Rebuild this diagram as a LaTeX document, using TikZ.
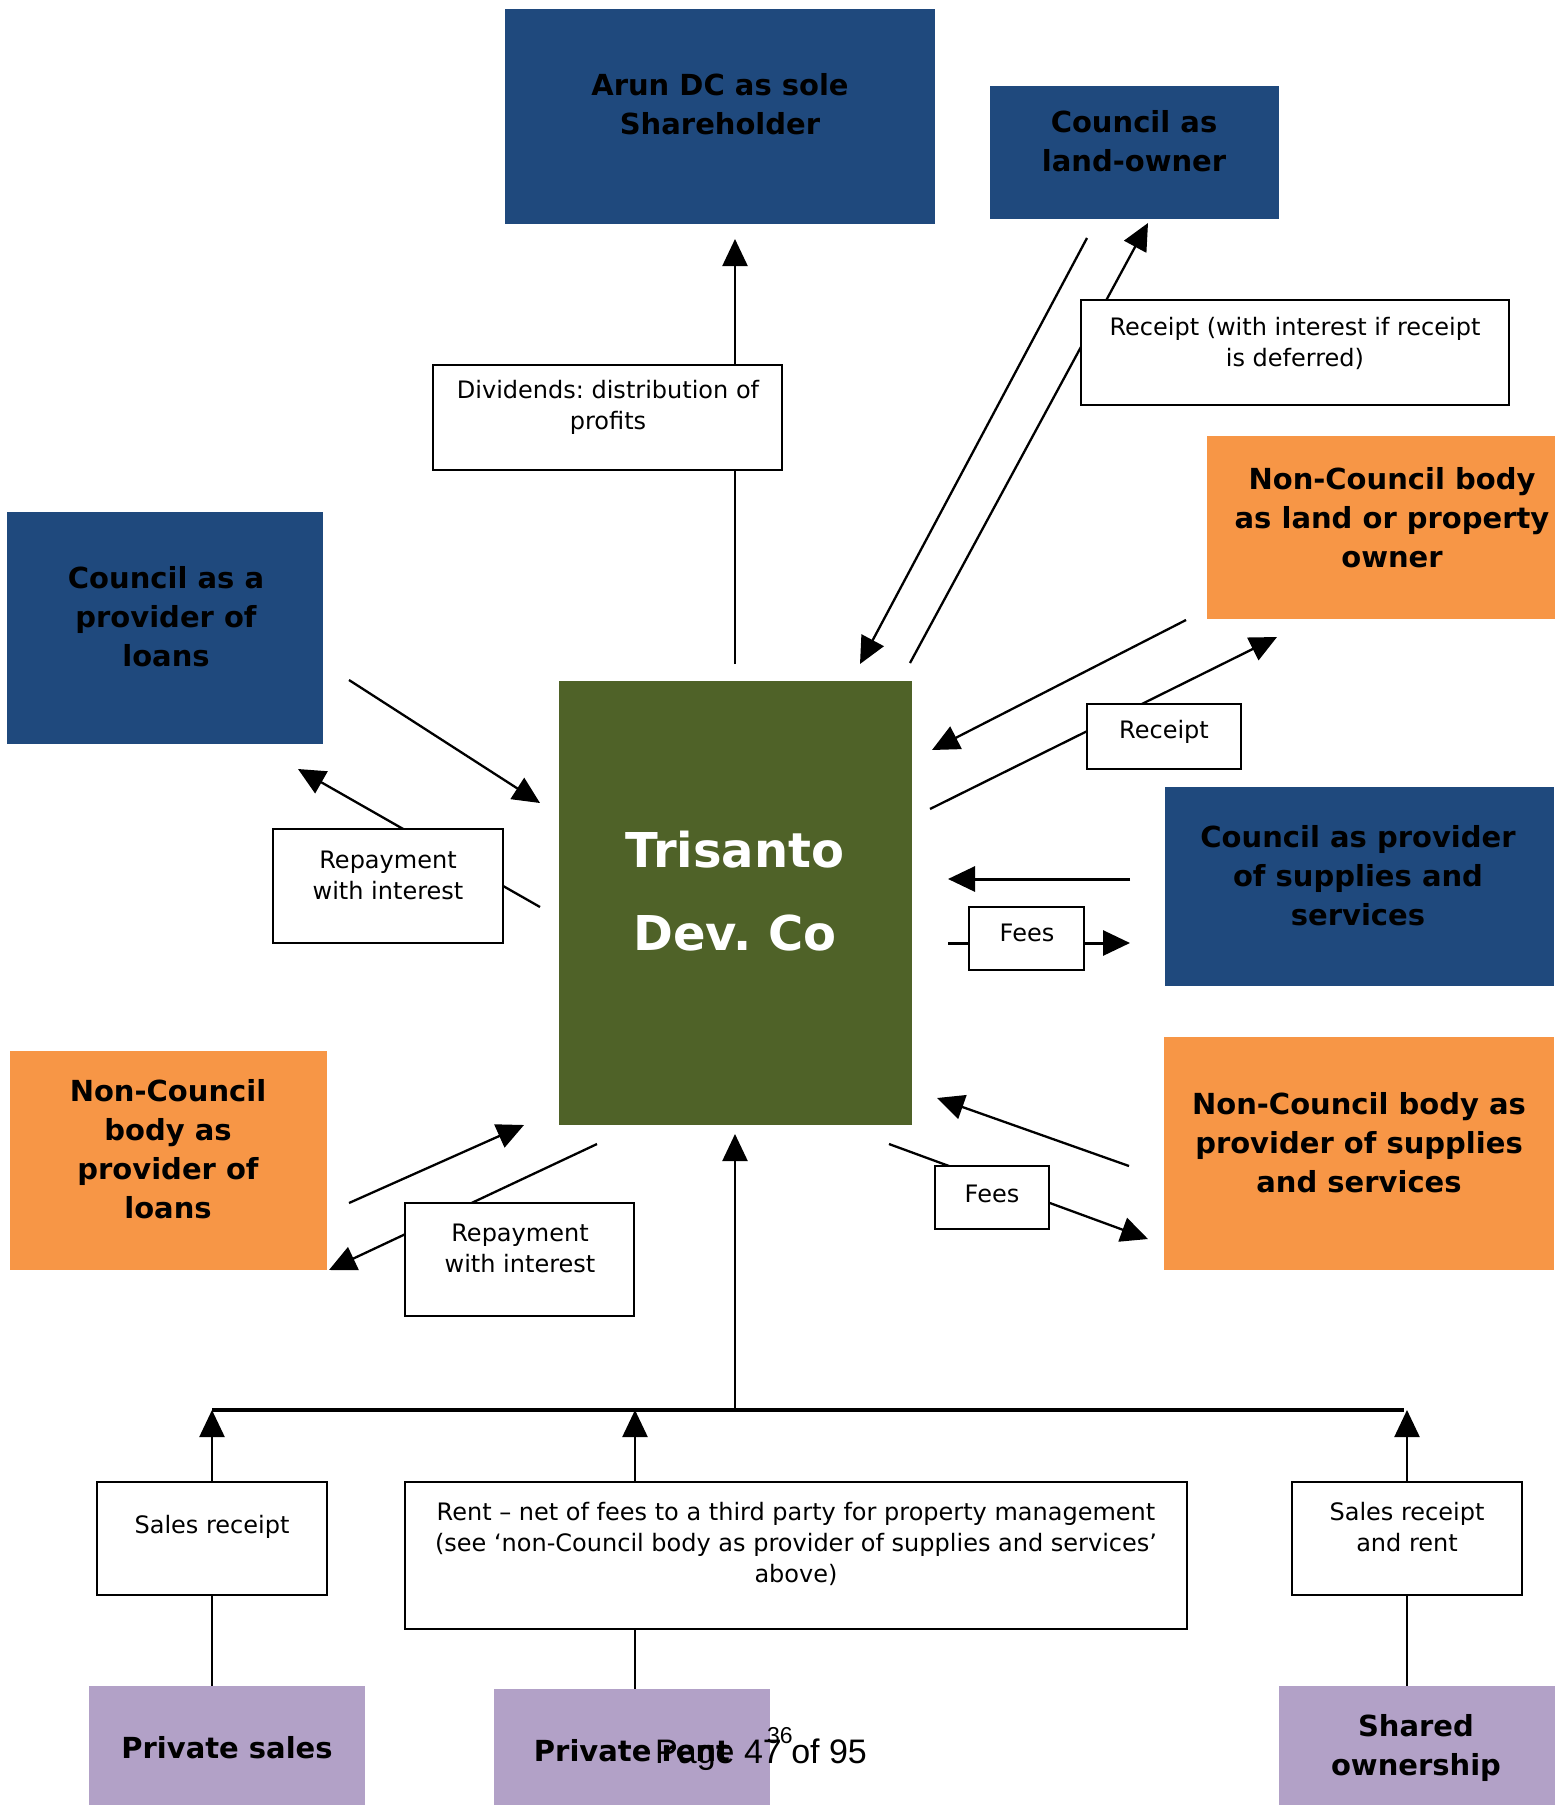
\documentclass[tikz,border=0pt]{standalone}
\usepackage{fontspec}
\setmainfont{DejaVu Sans}
\newfontfamily\pagefont{Liberation Sans}
\usetikzlibrary{arrows.meta}
\usetikzlibrary{calc}
\frenchspacing

\definecolor{councilblue}{HTML}{1F497D}
\definecolor{outsideorange}{HTML}{F79646}
\definecolor{devgreen}{HTML}{4F6228}
\definecolor{tenurelilac}{HTML}{B2A1C7}

\tikzset{
    blockbox/.style={draw=none, inner sep=0pt},
    blocktext/.style={align=center, inner sep=0pt, font=\fontsize{29}{39}\selectfont\bfseries},
    flowbox/.style={draw, fill=white, line width=2.6pt, inner sep=0pt},
    flowtext/.style={align=center, inner sep=0pt, font=\fontsize{24}{31}\selectfont},
    flow/.style={line width=2.3pt, -{Triangle[length=27pt, width=25pt]}},
    flowline/.style={line width=2.3pt},
}

\begin{document}
\begin{tikzpicture}[x=1pt, y=-1pt]
    % money flows around the development company
    \useasboundingbox (0,0) rectangle (1555,1805);

    \node[blockbox, fill=councilblue, minimum width=430pt, minimum height=215pt] (arunbox) at (720,116.5) {};
    \node[blockbox, fill=councilblue, minimum width=289pt, minimum height=133pt] (landbox) at (1134.5,152.5) {};
    \node[blockbox, fill=outsideorange, minimum width=348pt, minimum height=183pt] (nclandbox) at (1381,527.5) {};
    \node[blockbox, fill=councilblue, minimum width=316pt, minimum height=232pt] (loanbox) at (165,628) {};
    \node[blockbox, fill=devgreen, minimum width=353pt, minimum height=444pt] (tribox) at (735.5,903) {};
    \node[blockbox, fill=councilblue, minimum width=389pt, minimum height=199pt] (supbox) at (1359.5,886.5) {};
    \node[blockbox, fill=outsideorange, minimum width=317pt, minimum height=219pt] (ncloanbox) at (168.5,1160.5) {};
    \node[blockbox, fill=outsideorange, minimum width=390pt, minimum height=233pt] (ncsupbox) at (1359,1153.5) {};
    \node[blockbox, fill=tenurelilac, minimum width=276pt, minimum height=119pt] (salebox) at (227,1745.5) {};
    \node[blockbox, fill=tenurelilac, minimum width=276pt, minimum height=116pt] (rentbox) at (632,1747) {};
    \node[blockbox, fill=tenurelilac, minimum width=276pt, minimum height=119pt] (sharedbox) at (1417,1745.5) {};

    \coordinate (divA) at (735,664);
    \coordinate (divB) at (735,239);
    \coordinate (lndinA) at (1087,238);
    \coordinate (lndinB) at (860,664);
    \coordinate (lndoutA) at (910,663);
    \coordinate (lndoutB) at (1148,223);
    \coordinate (nclinA) at (1186,620);
    \coordinate (nclinB) at (932,750);
    \coordinate (ncloutA) at (930,809);
    \coordinate (ncloutB) at (1277,637);
    \coordinate (loaninA) at (349,680);
    \coordinate (loaninB) at (540,803);
    \coordinate (loanoutA) at (540,907);
    \coordinate (loanoutB) at (298,769);
    \coordinate (supinA) at (1130,879);
    \coordinate (supinB) at (948,879);
    \coordinate (supoutA) at (948,943);
    \coordinate (supoutB) at (1130,943);
    \coordinate (ncloaninA) at (349,1203);
    \coordinate (ncloaninB) at (524,1125);
    \coordinate (ncloanoutA) at (597,1144);
    \coordinate (ncloanoutB) at (329,1270);
    \coordinate (ncsupinA) at (1129,1166);
    \coordinate (ncsupinB) at (937,1098);
    \coordinate (ncsupoutA) at (889,1144);
    \coordinate (ncsupoutB) at (1148,1239);
    \coordinate (busL) at (212,1410);
    \coordinate (busM) at (735,1410);
    \coordinate (busR) at (1404,1410);
    \coordinate (triin) at (735,1134);
    \coordinate (rentup) at (635,1482);
    \coordinate (rentdown) at (635,1629);

    \draw[flow] (divA) -- (divB);
    \draw[flow] (lndinA) -- (lndinB);
    \draw[flow] (lndoutA) -- (lndoutB);
    \draw[flow] (nclinA) -- (nclinB);
    \draw[flow] (ncloutA) -- (ncloutB);
    \draw[flow] (loaninA) -- (loaninB);
    \draw[flow] (loanoutA) -- (loanoutB);
    \draw[flow, line width=3pt] (supinA) -- (supinB);
    \draw[flow, line width=3pt] (supoutA) -- (supoutB);
    \draw[flow] (ncloaninA) -- (ncloaninB);
    \draw[flow] (ncloanoutA) -- (ncloanoutB);
    \draw[flow] (ncsupinA) -- (ncsupinB);
    \draw[flow] (ncsupoutA) -- (ncsupoutB);
    \draw[line width=3.5pt] (busL) -- (busR);
    \draw[flow] (busM) -- (triin);

    \node[flowbox, minimum width=349pt, minimum height=105pt] (divbox) at (607.5,417.5) {};
    \node[flowbox, minimum width=428pt, minimum height=105pt] (lndbox) at (1295,352.5) {};
    \node[flowbox, minimum width=154pt, minimum height=65pt] (nclbox) at (1164,736.5) {};
    \node[flowbox, minimum width=230pt, minimum height=114pt] (repaybox) at (388,886) {};
    \node[flowbox, minimum width=115pt, minimum height=63pt] (feebox) at (1026.5,938.5) {};
    \node[flowbox, minimum width=114pt, minimum height=63pt] (ncfeebox) at (992,1197.5) {};
    \node[flowbox, minimum width=229pt, minimum height=113pt] (ncrepaybox) at (519.5,1259.5) {};
    \node[flowbox, minimum width=230pt, minimum height=113pt] (salesbox) at (212,1538.5) {};
    \node[flowbox, minimum width=782pt, minimum height=147pt] (rentsbox) at (796,1555.5) {};
    \node[flowbox, minimum width=230pt, minimum height=113pt] (mixbox) at (1407,1538.5) {};

    \draw[flow] (salesbox.north) -- (salesbox.north |- busL);
    \draw[flow] (rentup) -- (rentup |- busL);
    \draw[flow] (mixbox.north) -- (mixbox.north |- busL);
    \draw[flowline] (salesbox.south) -- (salesbox.south |- salebox.north);
    \draw[flowline] (rentdown) -- (rentdown |- rentbox.north);
    \draw[flowline] (mixbox.south) -- (mixbox.south |- sharedbox.north);

    \node[blocktext] (arun) at (720,104) {Arun DC as sole\\Shareholder};
    \node[blocktext] (land) at (1134,141) {Council as\\land-owner};
    \node[blocktext] (ncland) at (1392,518) {Non-Council body\\as land or property\\owner};
    \node[blocktext] (loan) at (166,617) {Council as a\\provider of\\loans};
    \node[blocktext, text=white, font=\fontsize{48}{83}\selectfont\bfseries] (tri) at (735,891) {Trisanto\\Dev. Co};
    \node[blocktext] (sup) at (1358,876) {Council as provider\\of supplies and\\services};
    \node[blocktext] (ncloan) at (168,1149) {Non-Council\\body as\\provider of\\loans};
    \node[blocktext] (ncsup) at (1359,1143) {Non-Council body as\\provider of supplies\\and services};
    \node[blocktext] (sale) at (227,1748) {Private sales};
    \node[blocktext] (rent) at (632,1751) {Private rent};
    \node[blocktext] (shared) at (1416,1748) {Shared\\ownership};

    \node[flowtext] (div) at (608,407) {Dividends: distribution of\\profits};
    \node[flowtext] (lnd) at (1295,343) {Receipt (with interest if receipt\\is deferred)};
    \node[flowtext] (ncl) at (1164,732) {Receipt};
    \node[flowtext] (repay) at (388,875) {Repayment\\with interest};
    \node[flowtext] (fee) at (1027,933) {Fees};
    \node[flowtext] (ncfee) at (992,1194) {Fees};
    \node[flowtext] (ncrepay) at (520,1248) {Repayment\\with interest};
    \node[flowtext] (sales) at (212,1527) {Sales receipt};
    \node[flowtext] (rents) at (796,1544) {Rent – net of fees to a third party for property management\\(see ‘non-Council body as provider of supplies and services’\\above)};
    \node[flowtext] (mix) at (1407,1527) {Sales receipt\\and rent};

    \node[anchor=base west, inner sep=0pt, font=\pagefont\fontsize{34}{40}\selectfont] (pg) at (655,1763) {Page 47 of 95};
    \node[anchor=base west, inner sep=0pt, font=\pagefont\fontsize{23}{28}\selectfont] (pgnum) at (767,1743) {36};
\end{tikzpicture}
\end{document}
